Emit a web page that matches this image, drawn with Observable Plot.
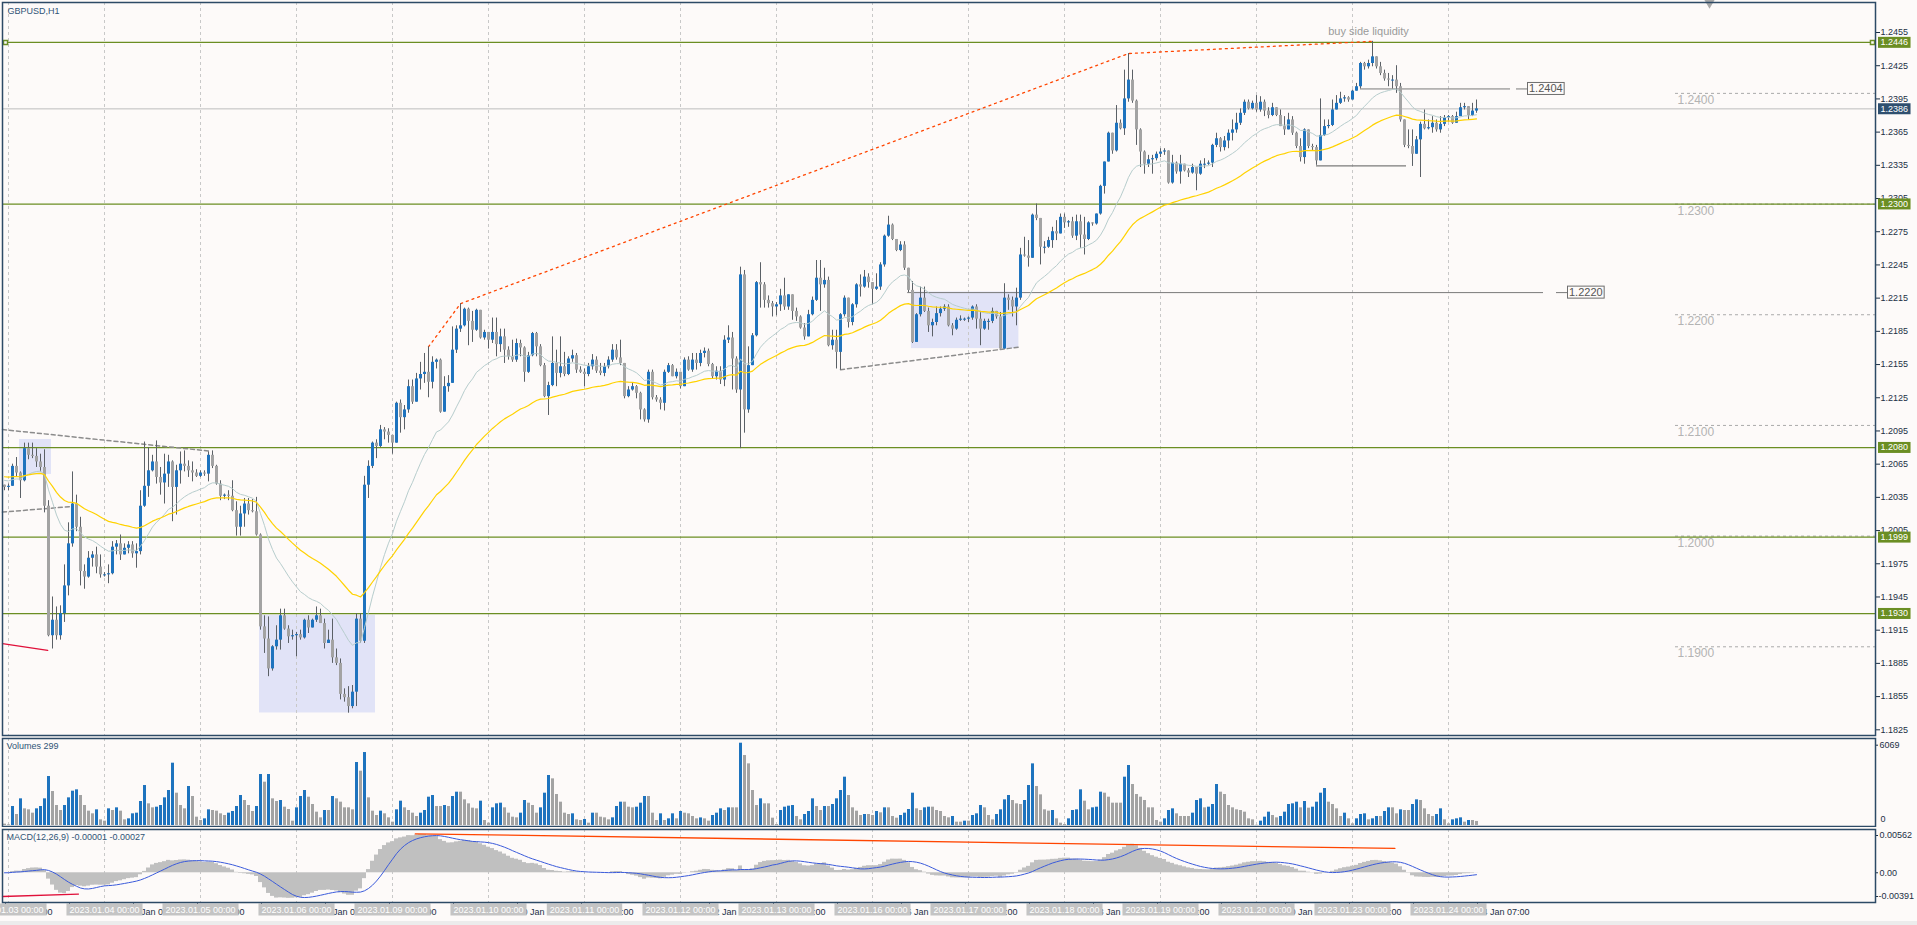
<!DOCTYPE html>
<html><head><meta charset="utf-8">
<script src="https://cdn.jsdelivr.net/npm/d3@7"></script>
<script src="https://cdn.jsdelivr.net/npm/@observablehq/plot@0.6"></script>
<style>
html,body{margin:0;padding:0;background:#fdfaf9;}
#chart{position:relative;width:1917px;height:925px;overflow:hidden;background:#fdfaf9;}
#chart svg{position:absolute;left:0;}
#strip{position:absolute;left:0;top:921px;width:1917px;height:4px;background:#ececec;}
</style></head><body><div id="chart"><div id="strip"></div></div>
<script>
// ---------------- DATA ----------------
const symbolTitle = "GBPUSD,H1";
const volumeTitle = "Volumes 299";
const macdTitle = "MACD(12,26,9) -0.00001 -0.00027";
const liquidityLabel = "buy side liquidity";
const prevDayLabel = "2023.01.02";
const dayLabels = ["2023.01.03","2023.01.04","2023.01.05","2023.01.06","2023.01.09","2023.01.10","2023.01.11","2023.01.12","2023.01.13","2023.01.16","2023.01.17","2023.01.18","2023.01.19","2023.01.20","2023.01.23","2023.01.24"];

// prices x10000 (H1 bars, first bar = 2 Jan 23:00)
const firstOpenP = 12046;
const closeP = [
12044,12045,12063,12057,12050,12079,12073,12072,12067,12062,
12027,11910,11924,11910,11930,11955,11993,12029,12008,11968,
11963,11980,11983,11972,11965,11965,11966,11990,11993,11983,
11989,11992,11984,11986,12027,12045,12059,12067,12053,12048,
12056,12067,12044,12059,12065,12063,12059,12057,12054,12057,
12056,12073,12063,12047,12036,12037,12036,12023,12008,12020,
12029,12023,12022,12001,11918,11907,11880,11900,11906,11928,
11916,11909,11910,11911,11908,11924,11917,11924,11928,11921,
11903,11906,11890,11885,11857,11854,11846,11859,11925,11905,
12046,12063,12084,12081,12096,12094,12091,12084,12120,12107,
12114,12135,12121,12142,12146,12148,12139,12157,12159,12112,
12135,12138,12168,12187,12190,12205,12194,12186,12204,12179,
12184,12177,12184,12173,12180,12168,12162,12159,12174,12170,
12148,12163,12183,12171,12154,12126,12136,12156,12147,12153,
12146,12160,12163,12150,12148,12146,12153,12159,12149,12147,
12153,12159,12168,12161,12156,12126,12132,12135,12129,12114,
12105,12148,12125,12123,12120,12148,12154,12144,12148,12135,
12159,12150,12159,12156,12165,12167,12155,12144,12149,12141,
12177,12179,12160,12132,12236,12114,12154,12181,12229,12227,
12213,12210,12207,12209,12217,12207,12218,12203,12198,12188,
12180,12200,12213,12233,12227,12231,12172,12177,12166,12200,
12215,12193,12209,12227,12225,12234,12229,12223,12225,12245,
12271,12281,12268,12258,12263,12242,12222,12175,12200,12215,
12203,12190,12193,12201,12205,12207,12190,12187,12195,12196,
12196,12197,12207,12196,12187,12194,12194,12203,12198,12169,
12215,12213,12207,12215,12254,12253,12251,12290,12287,12261,
12261,12267,12275,12273,12288,12283,12284,12271,12284,12272,
12268,12283,12282,12291,12316,12338,12364,12348,12373,12368,
12395,12412,12393,12367,12347,12336,12340,12341,12345,12347,
12348,12319,12337,12329,12336,12330,12328,12333,12327,12336,
12336,12337,12353,12359,12351,12357,12364,12367,12373,12382,
12392,12386,12391,12385,12392,12384,12380,12387,12380,12370,
12367,12376,12364,12352,12342,12367,12352,12351,12339,12362,
12370,12371,12385,12391,12395,12396,12394,12402,12406,12427,
12424,12427,12433,12424,12418,12413,12412,12412,12406,12376,
12353,12352,12345,12358,12372,12368,12369,12373,12367,12372,
12378,12379,12373,12379,12387,12388,12380,12384,12386];
const highP = [
12046,12047,12065,12071,12058,12084,12084,12084,12079,12074,
12078,12032,11945,11936,11937,11974,12012,12058,12037,12017,
11974,11986,11986,11990,11983,11967,11974,11995,11996,12001,
11993,11995,11995,11993,12041,12085,12080,12073,12086,12062,
12074,12073,12068,12064,12076,12077,12068,12067,12060,12059,
12059,12076,12077,12064,12050,12038,12041,12050,12031,12027,
12034,12034,12033,12035,12002,11928,11927,11901,11919,11934,
11934,11919,11915,11913,11915,11925,11928,11925,11936,11934,
11925,11915,11925,11898,11889,11862,11864,11865,11930,11930,
12054,12068,12085,12087,12100,12098,12097,12085,12121,12123,
12118,12141,12141,12147,12157,12165,12171,12162,12160,12160,
12144,12145,12189,12190,12210,12206,12206,12203,12205,12204,
12186,12181,12197,12197,12187,12187,12171,12177,12178,12177,
12171,12166,12184,12184,12173,12156,12139,12180,12168,12180,
12166,12162,12168,12165,12153,12151,12156,12164,12162,12156,
12156,12162,12173,12173,12177,12156,12135,12138,12136,12130,
12115,12150,12150,12127,12125,12150,12156,12155,12151,12148,
12161,12162,12165,12165,12168,12170,12169,12156,12153,12153,
12181,12190,12184,12162,12243,12240,12171,12183,12230,12247,
12229,12217,12212,12211,12223,12233,12218,12218,12206,12199,
12192,12204,12216,12249,12249,12242,12234,12186,12186,12201,
12217,12210,12210,12228,12236,12240,12237,12224,12237,12247,
12272,12289,12282,12266,12266,12266,12242,12230,12201,12225,
12225,12206,12196,12207,12207,12209,12209,12192,12197,12199,
12197,12198,12208,12209,12203,12196,12196,12206,12203,12202,
12228,12218,12216,12224,12260,12270,12267,12291,12300,12287,
12266,12270,12279,12285,12291,12291,12285,12288,12290,12290,
12288,12284,12283,12291,12317,12338,12365,12362,12389,12376,
12421,12436,12421,12394,12368,12348,12344,12344,12347,12350,
12350,12348,12344,12338,12344,12334,12332,12336,12333,12339,
12341,12339,12354,12364,12360,12361,12367,12376,12382,12386,
12394,12394,12393,12398,12397,12394,12387,12391,12387,12385,
12379,12382,12379,12365,12359,12368,12367,12354,12353,12395,
12376,12376,12394,12398,12401,12398,12397,12403,12409,12428,
12428,12430,12447,12433,12428,12421,12418,12416,12425,12409,
12374,12367,12367,12361,12374,12385,12376,12379,12376,12379,
12380,12380,12380,12383,12391,12391,12386,12391,12394];
const lowP = [
12041,12041,12045,12053,12034,12049,12069,12070,12062,12058,
12021,11909,11898,11906,11906,11922,11946,11990,12004,11955,
11952,11962,11972,11966,11962,11963,11957,11965,11983,11978,
11983,11984,11980,11971,11983,12026,12035,12058,12047,12037,
12029,12044,12013,12019,12047,12058,12053,12049,12053,12053,
12054,12049,12061,12046,12032,12033,12032,12022,12000,12000,
12008,12019,12021,12000,11915,11894,11873,11878,11897,11897,
11915,11903,11906,11891,11906,11907,11912,11917,11922,11921,
11898,11903,11885,11883,11852,11850,11840,11844,11846,11903,
11903,12034,12061,12070,12080,12087,12084,12074,12084,12093,
12096,12111,12119,12121,12132,12138,12125,12133,12151,12111,
12112,12130,12138,12165,12184,12189,12172,12175,12185,12178,
12177,12169,12174,12162,12166,12156,12159,12157,12157,12162,
12139,12147,12162,12162,12153,12125,12109,12135,12135,12143,
12144,12145,12157,12147,12147,12135,12144,12150,12147,12145,
12144,12151,12157,12159,12154,12124,12125,12131,12124,12105,
12103,12102,12123,12121,12114,12113,12147,12144,12142,12133,
12136,12149,12148,12150,12153,12161,12153,12142,12141,12137,
12135,12174,12132,12129,12079,12093,12111,12155,12180,12206,
12206,12206,12198,12199,12203,12204,12204,12195,12194,12187,
12177,12181,12199,12212,12203,12224,12171,12168,12151,12150,
12198,12188,12190,12206,12216,12224,12224,12209,12222,12222,
12243,12270,12267,12257,12257,12240,12220,12174,12175,12198,
12202,12184,12180,12190,12198,12203,12189,12181,12186,12194,
12194,12193,12195,12187,12172,12186,12186,12192,12196,12169,
12169,12204,12198,12190,12213,12252,12243,12252,12285,12245,
12255,12260,12260,12267,12276,12278,12279,12269,12267,12260,
12254,12267,12280,12281,12290,12309,12338,12345,12347,12367,
12362,12392,12391,12353,12333,12327,12333,12327,12339,12342,
12344,12318,12318,12327,12318,12329,12324,12327,12312,12326,
12332,12335,12333,12351,12347,12348,12350,12357,12364,12371,
12380,12385,12385,12383,12383,12379,12377,12379,12379,12370,
12362,12367,12362,12350,12338,12336,12350,12348,12335,12339,
12361,12368,12370,12385,12390,12392,12392,12396,12402,12404,
12421,12422,12424,12422,12416,12411,12406,12404,12400,12374,
12351,12350,12334,12345,12324,12367,12367,12364,12365,12364,
12370,12374,12372,12376,12379,12385,12376,12379,12382];
const volumes = [
100,50,1400,811,1966,1229,1155,909,1229,1400,
1966,3612,2506,1474,1106,1474,2039,2531,2629,2211,
1474,1057,860,1155,418,319,1229,1106,1302,1057,
418,491,860,909,1769,2948,1597,1302,1351,1474,
2039,2580,4595,2383,1474,1229,2875,2138,614,369,
491,1155,1106,1057,860,737,909,1032,1400,2211,
1843,1474,1032,1400,3759,3194,3759,1966,1769,1843,
1351,1179,319,1302,2138,2580,2088,1548,983,565,
1106,1106,2138,1966,1720,1302,1302,1155,4644,4005,
5381,2039,1057,737,1057,860,565,246,1155,1794,
1302,1106,909,663,909,1106,2088,2211,1400,1400,
1474,1400,2138,2457,2457,1892,1597,1278,1229,1794,
369,172,1302,1597,1646,1302,909,614,565,909,
1843,1646,1474,909,1302,2383,3686,3440,2285,1720,
909,811,860,418,369,442,172,909,909,614,
565,418,565,1400,1720,1720,1351,1302,1351,1646,
2138,2138,909,369,860,369,491,860,491,1032,
909,860,663,491,560,491,319,737,909,1229,
1106,1302,1302,1302,6069,5160,4545,2580,1474,1966,
1597,1597,541,74,1106,1351,1425,1474,663,418,
811,1032,1966,1400,1106,1400,1400,1548,1966,2580,
3563,2211,1302,1057,737,811,811,737,1032,934,
1302,1302,663,541,737,909,1179,2383,1229,1106,
1302,1351,1351,1106,1032,663,565,663,246,246,
319,319,737,860,1474,1302,737,418,811,1155,
1892,2211,1843,1597,1548,1843,2948,4545,2875,2260,
1155,1057,1106,491,172,74,491,1106,1155,2629,
1794,1155,1302,1351,2457,2383,2088,1646,1646,1646,
3563,4423,3022,2285,2088,1843,1302,1302,369,246,
491,1106,1229,860,663,663,663,909,1843,1966,
1302,1351,1548,3022,2457,2285,1474,1302,1155,1106,
983,491,418,20,319,614,983,737,565,663,
983,1548,1597,1720,1302,1769,1278,1351,1720,2383,
2727,1720,1548,1229,663,909,491,123,491,811,
860,418,491,663,663,1032,1302,1302,860,1155,
1106,1106,1548,1892,1843,1229,811,663,811,1229,
418,123,418,491,565,246,369,369,299];

const maFastStart = 1.2051, maSlowStart = 1.2054;
const greenLevels = [1.2446, 1.2300, 1.2080, 1.1999, 1.1930];
const bidPrice = 1.2386;
const roundLevels = [1.2400, 1.2300, 1.2200, 1.2100, 1.2000, 1.1900];
const roundStartK = 417.75;
const yTicks = [1.2455,1.2425,1.2395,1.2365,1.2335,1.2305,1.2275,1.2245,1.2215,1.2185,1.2155,1.2125,1.2095,1.2065,1.2035,1.2005,1.1975,1.1945,1.1915,1.1885,1.1855,1.1825];
const zones = [
  {k1: 3.75, k2: 11.75, p1: 1.20873, p2: 1.20557},
  {k1: 63.75, k2: 92.75, p1: 1.19284, p2: 1.18402},
  {k1: 226.75, k2: 253.6, p1: 1.22205, p2: 1.21694}];
const liquidityBars = [106, 114, 281, 342];
const trendPts = [
  {id: "a", k: -0.5, p: 1.20963}, {id: "a", k: 51.5, p: 1.20767},
  {id: "b", k: -0.5, p: 1.20217}, {id: "b", k: 17, p: 1.20268},
  {id: "c", k: 209, p: 1.21504}, {id: "c", k: 254, p: 1.21709}];
const redMark = [{k: -0.5, p: 1.19028}, {k: 10.8, p: 1.18968}];
const sellSide = {k1: 328, k2: 350.5, p: 1.23345};
const hLines = [
  {p: 1.2404, k1: 339, k2: 376.5, k3: 378, k4: 380.75, label: "1.2404"},
  {p: 1.2220, k1: 225.8, k2: 384.75, k3: 388, k4: 390.75, label: "1.2220"}];
const shiftK = 426.25;
const volumeMax = 6069;
const macdMax = 0.00562, macdMin = -0.00391;
const macdRed = [{k: -0.5, v: -0.00323}, {k: 18.5, v: -0.00290}];
const macdOrange = [{k: 102.7, v: 0.00531}, {k: 347.6, v: 0.00331}];

// ---------------- BUILD ----------------
const W = 1917;
const FONT = '"Liberation Sans", Arial, sans-serif';
const FS = 9;
const BLUE = "#1e73be", GRAY = "#a3a3a3", WICK = "#5b6066", FRAME = "#2d4a66", SEP = "#c8c8c8", BG = "#fdfaf9", TITLE = "#2f5477";
const xDomain = [-0.5, 467.75];
const style = {background: "none", fontFamily: FONT, fontSize: FS + "px", color: "#1c2f45"};
const tag = name => () => name;

const bars = closeP.map((c, k) => {
  const open = (k === 0 ? firstOpenP : closeP[k - 1]) / 1e4;
  const close = c / 1e4;
  return {k, open, close,
    high: Math.max(highP[k] / 1e4, open, close),
    low: Math.min(lowP[k] / 1e4, open, close),
    up: close >= open};
});
const ema = (vals, n, seed) => { const a = 2 / (n + 1); let e = seed; return vals.map(v => (e += a * (v - e))); };
const closes = bars.map(d => d.close);
const maF = ema(closes, 20, maFastStart), maS = ema(closes, 50, maSlowStart);
const e12 = ema(closes, 12, closes[0]), e26 = ema(closes, 26, closes[0]);
const macd = e12.map((v, i) => v - e26[i]);
const sig = macd.map((_, i) => d3.mean(macd.slice(Math.max(0, i - 8), i + 1)));
bars.forEach((d, i) => {
  d.maF = maF[i]; d.maS = maS[i]; d.macd = macd[i]; d.sig = sig[i];
  d.vol = volumes[i]; d.volUp = i > 0 && volumes[i] > volumes[i - 1];
});
const daySeps = dayLabels.map((lab, i) => ({k: 1 + 24 * i, label: lab + " 00:00"}));
const daySepK = daySeps.map(d => d.k);
const lastK = bars.length - 1;
const xTicks = []; for (let k = lastK; k >= 0; k -= 16) xTicks.push(k);
const tickLabel = k => {
  const i = Math.floor((k - 1) / 24), h = k - 1 - 24 * i;
  const lab = i < 0 ? prevDayLabel : dayLabels[i];
  return `${+lab.slice(8)} Jan ${String(h).padStart(2, "0")}:00`;
};
const bx1 = d => d.k - 0.25, bx2 = d => d.k + 0.5;
const doji = d => Math.abs(d.close - d.open) < 0.00009;

const main = Plot.plot({
  width: W, height: 737, marginLeft: 2, marginRight: 42, marginTop: 2, marginBottom: 2,
  x: {domain: xDomain, axis: null},
  y: {domain: [yTicks[yTicks.length - 1], yTicks[0]], range: [729.3, 32]},
  style,
  marks: [
    Plot.rect(zones, {x1: "k1", x2: "k2", y1: "p1", y2: "p2", fill: "#e1e3f7"}),
    Plot.ruleX(daySepK, {stroke: SEP, strokeDasharray: "3,3"}),
    Plot.ruleY(roundLevels, {x1: roundStartK, x2: xDomain[1], stroke: "#aaaaaa", strokeDasharray: "3,3"}),
    Plot.text(roundLevels, {x: roundStartK, y: d => d, text: d => d.toFixed(4), textAnchor: "start", lineAnchor: "top", dx: 2, dy: 2, fill: "#b3b3b3", fontSize: 12}),
    Plot.ruleY(greenLevels, {stroke: "#6b8e23", strokeWidth: 1.2}),
    Plot.ruleY([bidPrice], {stroke: "#bdbdbd"}),
    Plot.line(trendPts, {x: "k", y: "p", z: "id", stroke: "#8c8c8c", strokeDasharray: "4,3"}),
    Plot.line(redMark, {x: "k", y: "p", stroke: "#e0103a", strokeWidth: 1.3}),
    Plot.line(liquidityBars.map(k => ({k, p: bars[k].high})), {x: "k", y: "p", stroke: "#ff4500", strokeDasharray: "2,4", strokeWidth: 1.3}),
    Plot.ruleY([sellSide], {y: "p", x1: "k1", x2: "k2", stroke: "#7a7a7a", strokeWidth: 1.3}),
    Plot.ruleY(hLines, {y: "p", x1: "k1", x2: "k2", stroke: "#7a7a7a"}),
    Plot.ruleY(hLines, {y: "p", x1: "k3", x2: "k4", stroke: "#7a7a7a"}),
    Plot.ruleX(bars, {x: "k", y1: "low", y2: "high", stroke: WICK}),
    Plot.rect(bars, {filter: d => d.up, x1: bx1, x2: bx2, y1: "open", y2: "close", fill: BLUE}),
    Plot.rect(bars, {filter: d => !d.up, x1: bx1, x2: bx2, y1: "open", y2: "close", fill: GRAY}),
    Plot.ruleY(bars, {filter: d => doji(d) && d.up, y: "close", x1: bx1, x2: bx2, stroke: BLUE}),
    Plot.ruleY(bars, {filter: d => doji(d) && !d.up, y: "close", x1: bx1, x2: bx2, stroke: GRAY}),
    Plot.line(bars, {x: "k", y: "maF", stroke: "#b7cdcd", strokeWidth: 1}),
    Plot.line(bars, {x: "k", y: "maS", stroke: "#ffd200", strokeWidth: 1.2}),
    Plot.text([bars[liquidityBars[liquidityBars.length - 1]]], {x: "k", y: "high", text: () => liquidityLabel, dy: -10, dx: -4, fill: "#9a9a9a", fontSize: 11}),
    Plot.text([symbolTitle], {frameAnchor: "top-left", text: d => d, dx: 5, dy: 5, lineAnchor: "top", fill: TITLE, fontSize: FS}),
    Plot.dot([greenLevels[0]], {y: d => d, frameAnchor: "left", dx: 3, symbol: "square", r: 2.3, stroke: "#6b8e23", fill: BG}),
    Plot.dot([greenLevels[0]], {y: d => d, frameAnchor: "right", dx: -3, symbol: "square", r: 2.3, stroke: "#6b8e23", fill: BG}),
    Plot.dot([shiftK], {x: d => d, frameAnchor: "top", symbol: "triangle", rotate: 180, r: 4, fill: "#a8a8a8"}),
    Plot.axisY(yTicks, {anchor: "right", label: null, tickSize: 4, tickPadding: 1, tickFormat: d => d.toFixed(4), fontSize: FS}),
    Plot.text(greenLevels, {y: d => d, frameAnchor: "right", dx: 5, textAnchor: "start", text: d => d.toFixed(4), fill: "#ffffff", ariaLabel: tag("gbox"), fontSize: FS}),
    Plot.text([bidPrice], {y: d => d, frameAnchor: "right", dx: 5, textAnchor: "start", text: d => d.toFixed(4), fill: "#ffffff", ariaLabel: tag("bidbox"), fontSize: FS}),
    Plot.text(hLines, {x: "k4", y: "p", text: "label", textAnchor: "start", dx: 1.5, fill: "#555555", fontSize: 11, ariaLabel: tag("tbox")}),
    Plot.frame({stroke: FRAME, strokeWidth: 1.5})
  ]
});

const volPlot = Plot.plot({
  width: W, height: 90, marginLeft: 2, marginRight: 42, marginTop: 1, marginBottom: 1,
  x: {domain: xDomain, axis: null},
  y: {domain: [0, volumeMax], range: [88, 5.7]},
  style,
  marks: [
    Plot.ruleX(daySepK, {stroke: SEP, strokeDasharray: "3,3"}),
    Plot.rect(bars, {filter: d => d.volUp, x1: bx1, x2: bx2, y1: 0, y2: "vol", fill: BLUE}),
    Plot.rect(bars, {filter: d => !d.volUp, x1: bx1, x2: bx2, y1: 0, y2: "vol", fill: GRAY}),
    Plot.axisY([volumeMax], {anchor: "right", label: null, tickSize: 2, tickPadding: 2, tickFormat: d => String(d), dy: 2, fontSize: FS}),
    Plot.axisY([0], {anchor: "right", label: null, tickSize: 0, tickPadding: 5, tickFormat: () => "0", dy: -6, fontSize: FS}),
    Plot.text([volumeTitle], {frameAnchor: "top-left", text: d => d, dx: 4, dy: 4, lineAnchor: "top", fill: TITLE, fontSize: FS}),
    Plot.frame({stroke: FRAME, strokeWidth: 1.5})
  ]
});

const macdPlot = Plot.plot({
  width: W, height: 97, marginLeft: 2, marginRight: 42, marginTop: 1, marginBottom: 23,
  x: {domain: xDomain},
  y: {domain: [macdMin, macdMax], range: [73, 3]},
  style,
  marks: [
    Plot.ruleX(daySepK, {stroke: SEP, strokeDasharray: "3,3"}),
    Plot.rect(bars, {x1: d => d.k - 0.5, x2: d => d.k + 0.5, y1: 0, y2: "macd", fill: "#c0c0c0"}),
    Plot.line(bars, {x: "k", y: "sig", stroke: "#3b5bdb", strokeWidth: 1}),
    Plot.line(macdRed, {x: "k", y: "v", stroke: "#e0103a", strokeWidth: 1.3}),
    Plot.line(macdOrange, {x: "k", y: "v", stroke: "#ff4500", strokeWidth: 1.3}),
    Plot.axisY([macdMax], {anchor: "right", label: null, tickSize: 2, tickPadding: 2, tickFormat: d => d.toFixed(5), dy: 4, fontSize: FS}),
    Plot.axisY([0], {anchor: "right", label: null, tickSize: 2, tickPadding: 2, tickFormat: () => "0.00", fontSize: FS}),
    Plot.axisY([macdMin], {anchor: "right", label: null, tickSize: 2, tickPadding: 1, tickFormat: d => d.toFixed(5), dy: -5, fontSize: FS}),
    Plot.text([macdTitle], {frameAnchor: "top-left", text: d => d, dx: 4, dy: 4, lineAnchor: "top", fill: TITLE, fontSize: FS}),
    Plot.axisX(xTicks, {anchor: "bottom", label: null, tickSize: 4, tickPadding: 2, tickFormat: tickLabel, textAnchor: "start", dx: 1, fontSize: FS}),
    Plot.text(daySeps, {x: "k", text: "label", frameAnchor: "bottom", dy: 10, fill: "#ffffff", fontSize: FS, ariaLabel: tag("dbox")}),
    Plot.frame({stroke: FRAME, strokeWidth: 1.5})
  ]
});

const root = document.getElementById("chart");
[[main, 0], [volPlot, 737], [macdPlot, 828]].forEach(([svg, top]) => {
  svg.style.top = top + "px";
  root.appendChild(svg);
});

function boxify(label, fill, stroke, padX, padY) {
  const texts = new Set();
  root.querySelectorAll(`[aria-label="${label}"]`).forEach(el => {
    if (el.tagName.toLowerCase() === "text") texts.add(el);
    else el.querySelectorAll("text").forEach(t => texts.add(t));
  });
  texts.forEach(t => {
    const b = t.getBBox();
    const r = document.createElementNS("http://www.w3.org/2000/svg", "rect");
    r.setAttribute("x", b.x - padX);
    r.setAttribute("y", b.y - padY);
    r.setAttribute("width", b.width + 2 * padX);
    r.setAttribute("height", b.height + 2 * padY);
    const tr = t.getAttribute("transform");
    if (tr) r.setAttribute("transform", tr);
    r.setAttribute("fill", fill);
    r.setAttribute("stroke", stroke || "none");
    r.setAttribute("stroke-width", "1");
    t.parentNode.insertBefore(r, t);
  });
}
boxify("gbox", "#6b8e23", null, 2.5, 0.5);
boxify("bidbox", "#2f4f6f", null, 2.5, 0.5);
boxify("tbox", BG, "#6e6e6e", 1.5, 0);
boxify("dbox", "#c4c4c4", null, 3, 1);
</script></body></html>
